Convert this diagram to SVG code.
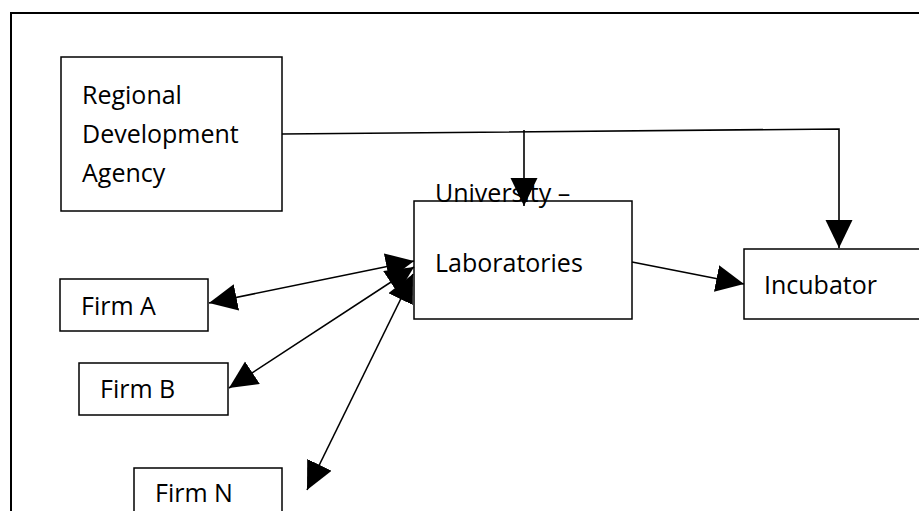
<svg xmlns="http://www.w3.org/2000/svg" width="919" height="511" viewBox="0 0 919 511">
<style>
.box{fill:#fff;stroke:#000;stroke-width:1.5}
.lbl{font-family:"Open Sans","Liberation Sans",sans-serif;font-size:25px;fill:#000}
.ln{fill:none;stroke:#000;stroke-width:1.6}
</style>
<defs>
<marker id="ah" markerUnits="userSpaceOnUse" markerWidth="30" markerHeight="28" refX="28" refY="13.5" orient="auto-start-reverse" viewBox="0 0 30 28">
<path d="M0,0 L28,13.5 L0,27 z" fill="#000"/>
</marker>
</defs>
<rect width="919" height="511" fill="#fff"/>
<path d="M11,511 V13 H919" fill="none" stroke="#000" stroke-width="2"/>
<g id="rda">
<rect class="box" x="61" y="57" width="221" height="154"/>
<text class="lbl" x="82" y="104">Regional</text>
<text class="lbl" x="82" y="143">Development</text>
<text class="lbl" x="82" y="182">Agency</text>
</g>
<g id="university">
<rect class="box" x="414" y="201" width="218" height="118"/>
<text class="lbl" x="435" y="272">Laboratories</text>
</g>
<g id="incubator">
<rect class="box" x="744" y="249" width="185" height="70"/>
<text class="lbl" x="764" y="294">Incubator</text>
</g>
<g id="firmA">
<rect class="box" x="60" y="279" width="148" height="52"/>
<text class="lbl" x="81" y="315">Firm A</text>
</g>
<g id="firmB">
<rect class="box" x="79" y="363" width="149" height="52"/>
<text class="lbl" x="100" y="398">Firm B</text>
</g>
<g id="firmN">
<rect class="box" x="134" y="468" width="148" height="60"/>
<text class="lbl" x="155" y="502">Firm N</text>
</g>
<g id="connectors">
<polyline class="ln" points="282,134 839,129 839,248" marker-end="url(#ah)"/>
<line class="ln" x1="524" y1="130" x2="524" y2="206" marker-end="url(#ah)"/>
<line class="ln" x1="632" y1="262" x2="744" y2="284" marker-end="url(#ah)"/>
<line class="ln" x1="209" y1="303" x2="414" y2="261" marker-start="url(#ah)" marker-end="url(#ah)"/>
<line class="ln" x1="229" y1="388" x2="414" y2="267" marker-start="url(#ah)" marker-end="url(#ah)"/>
<line class="ln" x1="307" y1="490" x2="413" y2="274" marker-start="url(#ah)" marker-end="url(#ah)"/>
</g>
<text class="lbl" x="435" y="202">University –</text>
</svg>
